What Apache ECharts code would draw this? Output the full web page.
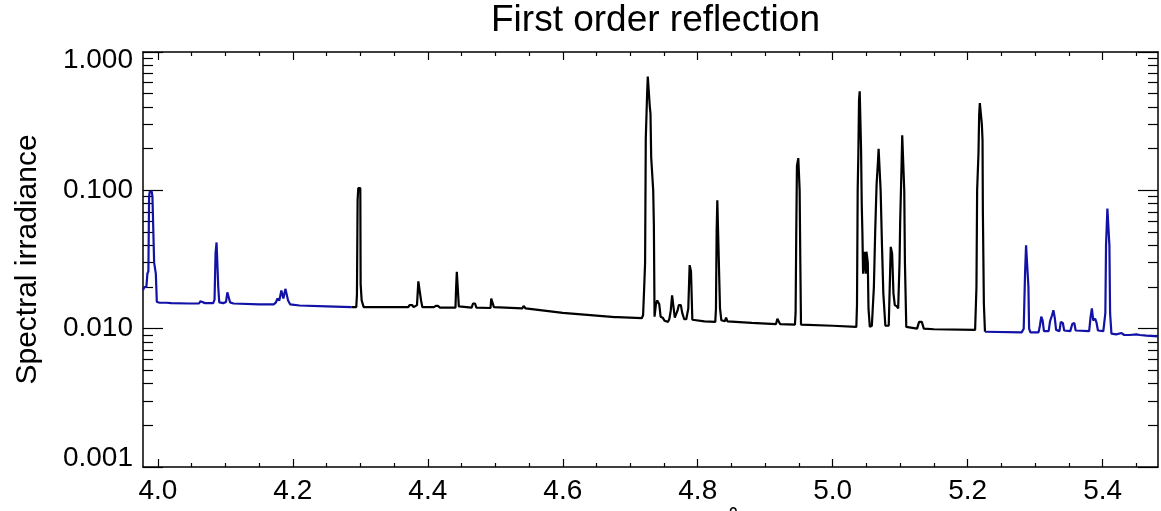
<!DOCTYPE html>
<html><head><meta charset="utf-8">
<script src="https://cdn.jsdelivr.net/npm/echarts@6/dist/echarts.min.js"></script>
<style>html,body{margin:0;padding:0;background:#fff}#c{width:1161px;height:511px}</style>
</head><body><div id="c"></div>
<script>
// wavelength (Å, in units shown on axis), spectral irradiance
const blueLeft = [
[3.978,0.019],[3.980,0.020],[3.983,0.020],[3.9845,0.025],[3.986,0.026],[3.987,0.090],[3.988,0.098],[3.991,0.098],
[3.992,0.090],[3.9935,0.088],[3.9945,0.030],[3.997,0.025],[3.9985,0.0156],[4.003,0.0154],[4.009,0.0154],[4.011,0.0158],
[4.013,0.0154],[4.020,0.0153],[4.046,0.0152],[4.048,0.0157],[4.050,0.0152],[4.061,0.0152],[4.063,0.0158],[4.065,0.0153],
[4.070,0.0153],[4.072,0.0158],[4.074,0.0153],[4.082,0.0153],[4.084,0.0162],[4.0855,0.035],[4.087,0.042],[4.0885,0.043],
[4.0895,0.020],[4.091,0.0155],[4.097,0.0153],[4.101,0.0156],[4.103,0.0183],[4.105,0.0183],[4.107,0.0155],[4.112,0.0152],
[4.150,0.0150],[4.152,0.0153],[4.155,0.0150],[4.172,0.0150],[4.175,0.0155],[4.177,0.0165],[4.180,0.0160],[4.183,0.0189],
[4.186,0.0165],[4.189,0.0194],[4.191,0.0194],[4.193,0.0160],[4.196,0.0150],[4.210,0.0147],[4.250,0.0145],[4.2874,0.0143]
];
const blackMid = [
[4.2874,0.0143],[4.294,0.0143],[4.295,0.0175],[4.296,0.085],[4.297,0.104],[4.300,0.104],[4.3005,0.021],[4.302,0.016],
[4.304,0.016],[4.305,0.0143],[4.345,0.0143],[4.347,0.0146],[4.349,0.0143],[4.371,0.0143],[4.373,0.0148],[4.377,0.0148],
[4.379,0.0143],[4.384,0.0148],[4.386,0.022],[4.388,0.022],[4.390,0.016],[4.392,0.0143],[4.409,0.0143],[4.412,0.0146],
[4.415,0.0146],[4.418,0.0142],[4.441,0.0142],[4.442,0.020],[4.443,0.0258],[4.445,0.0258],[4.446,0.0145],[4.465,0.0142],
[4.467,0.0152],[4.470,0.0152],[4.472,0.0142],[4.493,0.0141],[4.494,0.0165],[4.496,0.0170],[4.498,0.0143],[4.540,0.0140],
[4.542,0.0146],[4.545,0.0140],[4.600,0.0130],[4.677,0.0121],[4.679,0.0124],[4.681,0.0121],[4.717,0.0119],[4.719,0.0125],
[4.7205,0.019],[4.722,0.030],[4.723,0.236],[4.725,0.500],[4.726,0.665],[4.728,0.665],[4.729,0.400],[4.730,0.358],
[4.731,0.174],[4.733,0.174],[4.734,0.100],[4.735,0.056],[4.736,0.0122],[4.738,0.0150],[4.740,0.0160],[4.742,0.0160],
[4.743,0.0150],[4.745,0.0122],[4.748,0.0120],[4.751,0.0114],[4.756,0.0112],[4.758,0.0118],[4.760,0.0135],[4.762,0.0174],
[4.764,0.0174],[4.766,0.0120],[4.768,0.0122],[4.770,0.0135],[4.772,0.0148],[4.775,0.0148],[4.777,0.0130],[4.780,0.0117],
[4.783,0.0117],[4.786,0.0140],[4.788,0.0288],[4.790,0.0260],[4.792,0.0116],[4.810,0.0113],[4.826,0.0112],[4.827,0.0140],
[4.828,0.050],[4.829,0.0847],[4.831,0.0847],[4.833,0.014],[4.835,0.0115],[4.840,0.0113],[4.842,0.0120],[4.844,0.0113],
[4.880,0.0110],[4.916,0.0108],[4.918,0.0118],[4.920,0.0118],[4.922,0.0108],[4.944,0.0107],[4.945,0.0130],[4.946,0.050],
[4.947,0.150],[4.949,0.171],[4.950,0.171],[4.951,0.100],[4.952,0.030],[4.953,0.0107],[5.000,0.0105],[5.035,0.0103],
[5.036,0.015],[5.037,0.100],[5.038,0.185],[5.039,0.450],[5.040,0.520],[5.041,0.520],[5.042,0.200],[5.043,0.080],
[5.044,0.049],[5.045,0.025],[5.047,0.036],[5.049,0.025],[5.050,0.036],[5.052,0.030],[5.053,0.014],[5.055,0.0103],
[5.058,0.0105],[5.061,0.020],[5.063,0.0513],[5.065,0.110],[5.067,0.160],[5.068,0.200],[5.070,0.200],[5.071,0.100],
[5.073,0.040],[5.075,0.018],[5.078,0.0105],[5.083,0.0105],[5.085,0.025],[5.086,0.039],[5.088,0.035],[5.090,0.018],
[5.092,0.0148],[5.095,0.0145],[5.097,0.0140],[5.099,0.030],[5.100,0.060],[5.102,0.150],[5.103,0.250],[5.105,0.250],
[5.106,0.100],[5.107,0.030],[5.109,0.0103],[5.125,0.0100],[5.128,0.0112],[5.132,0.0112],[5.135,0.0100],[5.150,0.0099],
[5.211,0.0098],[5.213,0.020],[5.214,0.100],[5.216,0.185],[5.217,0.350],[5.218,0.427],[5.220,0.427],[5.221,0.300],
[5.222,0.230],[5.2225,0.070],[5.224,0.015],[5.2256,0.0095]
];
const blueRight = [
[5.2256,0.0095],[5.280,0.0094],[5.283,0.0100],[5.285,0.025],[5.2865,0.040],[5.2885,0.040],[5.290,0.020],[5.291,0.0100],
[5.293,0.0094],[5.305,0.0094],[5.307,0.0105],[5.309,0.0122],[5.311,0.0115],[5.313,0.0096],[5.320,0.0096],[5.322,0.0113],
[5.325,0.0125],[5.327,0.0136],[5.329,0.0120],[5.331,0.0098],[5.336,0.0096],[5.338,0.0112],[5.341,0.0110],[5.343,0.0097],
[5.352,0.0096],[5.355,0.0108],[5.358,0.0110],[5.360,0.0097],[5.380,0.0096],[5.382,0.0120],[5.384,0.0140],[5.386,0.0115],
[5.389,0.0118],[5.391,0.0110],[5.393,0.0097],[5.401,0.0096],[5.404,0.0130],[5.405,0.040],[5.407,0.0738],[5.409,0.0738],
[5.410,0.040],[5.411,0.0130],[5.413,0.0092],[5.420,0.0091],[5.428,0.0093],[5.432,0.0090],[5.440,0.0090],[5.450,0.0091],
[5.455,0.0090],[5.465,0.0089],[5.482,0.0088]
];
const xMajorTicks = [4.0,4.2,4.4,4.6,4.8,5.0,5.2,5.4];
const xMinorTicks = [4.05,4.1,4.15,4.25,4.3,4.35,4.45,4.5,4.55,4.65,4.7,4.75,4.85,4.9,4.95,5.05,5.1,5.15,5.25,5.3,5.35,5.45];
const yMajorTicks = [0.001,0.01,0.1,1];
const yMinorTicks = [0.002,0.003,0.004,0.005,0.006,0.007,0.008,0.009,0.02,0.03,0.04,0.05,0.06,0.07,0.08,0.09,0.2,0.3,0.4,0.5,0.6,0.7,0.8,0.9];
const titleText = 'First order reflection';
const yTitle = 'Spectral irradiance';
const xTitle = 'Wavelength (Å)';

const FONT = '"Liberation Sans", Arial, Helvetica, sans-serif';
const XMIN = 3.978, XMAX = 5.482, YMIN = 0.001, YMAX = 1;
const lineAx = {show:true, lineStyle:{color:'#000', width:1.5}};

function xAx(pos, ticks, len, labels, line){
  return {type:'value', position:pos, min:XMIN, max:XMAX,
    axisLine: line ? lineAx : {show:false},
    splitLine:{show:false},
    axisTick:{show:true, inside:true, length:len, customValues:ticks, lineStyle:{color:'#000', width:1.2}},
    axisLabel: labels ? {show:true, customValues:ticks, margin:10, fontSize:28, color:'#000', fontFamily:FONT,
      formatter:v=>v.toFixed(1)} : {show:false},
    name: (labels ? xTitle : ''), nameLocation:'middle', nameGap:38,
    nameTextStyle:{fontSize:30, color:'#000', fontFamily:FONT, verticalAlign:'top'}
  };
}
function yAx(pos, ticks, len, labels, line){
  return {type:'log', logBase:10, position:pos, min:YMIN, max:YMAX,
    axisLine: line ? lineAx : {show:false},
    splitLine:{show:false}, minorTick:{show:false},
    axisTick:{show:true, inside:true, length:len, customValues:ticks, lineStyle:{color:'#000', width:1.2}},
    axisLabel: labels ? {show:true, customValues:ticks, margin:10, fontSize:28, color:'#000', fontFamily:FONT,
      formatter:v=>{const s=v.toFixed(3); if(Math.abs(v-1)<1e-9) return '{t|'+s+'}'; if(Math.abs(v-0.001)<1e-9) return '{b|'+s+'}'; return s;},
      rich:{t:{fontSize:28,color:'#000',fontFamily:FONT,padding:[17,0,0,0]}, b:{fontSize:28,color:'#000',fontFamily:FONT,padding:[0,0,18,0]}}
    } : {show:false},
    name: (labels ? yTitle : ''), nameLocation:'middle', nameGap:100, nameRotate:90,
    nameTextStyle:{fontSize:30, color:'#000', fontFamily:FONT}
  };
}

const chart = echarts.init(document.getElementById('c'), null, {renderer:'canvas'});
chart.setOption({
  animation:false,
  backgroundColor:'#fff',
  title:{text:titleText, left:650.5, top:-3, textAlign:'center',
    textStyle:{fontSize:37, fontWeight:'normal', color:'#000', fontFamily:FONT}},
  grid:{left:143, right:3, top:52, bottom:44, containLabel:false, outerBoundsMode:'none'},
  xAxis:[xAx('bottom', xMajorTicks, 8, true, true), xAx('bottom', xMinorTicks, 4, false, false),
         xAx('top', xMajorTicks, 8, false, true), xAx('top', xMinorTicks, 4, false, false)],
  yAxis:[yAx('left', yMajorTicks, 20, true, true), yAx('left', yMinorTicks, 10, false, false),
         yAx('right', yMajorTicks, 20, false, true), yAx('right', yMinorTicks, 10, false, false)],
  series:[
    {type:'line', data:blueLeft, xAxisIndex:0, yAxisIndex:0, showSymbol:false, lineStyle:{color:'#1212a6', width:2.2}, itemStyle:{color:'#1212a6'}, clip:true},
    {type:'line', data:blackMid, xAxisIndex:0, yAxisIndex:0, showSymbol:false, lineStyle:{color:'#000', width:2.2}, itemStyle:{color:'#000'}, clip:true},
    {type:'line', data:blueRight, xAxisIndex:0, yAxisIndex:0, showSymbol:false, lineStyle:{color:'#1212a6', width:2.2}, itemStyle:{color:'#1212a6'}, clip:true}
  ]
});
</script></body></html>
